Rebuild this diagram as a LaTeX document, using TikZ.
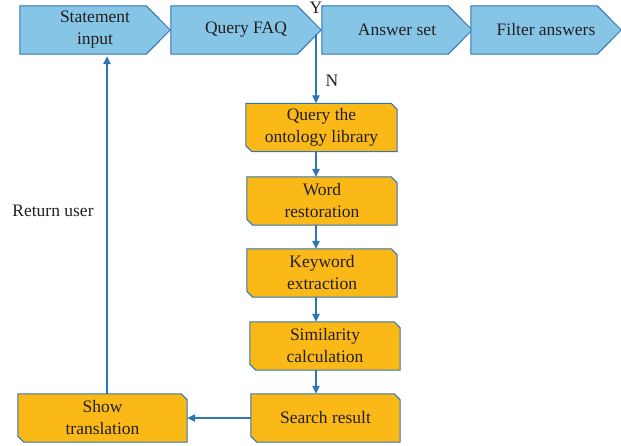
\documentclass[tikz,border=0pt]{standalone}
\usepackage{fontspec}
\setmainfont{Liberation Serif}
\usetikzlibrary{arrows.meta,backgrounds}
\definecolor{chevfill}{RGB}{134,197,229}
\definecolor{boxfill}{RGB}{251,185,23}
\definecolor{edgeblue}{RGB}{46,117,182}
\definecolor{inkdark}{RGB}{35,31,32}
\begin{document}
\begin{tikzpicture}[x=1pt,y=-1pt,
  txt/.style={font=\fontsize{17.5}{22}\selectfont, text=inkdark, align=center, inner sep=0pt},
  chev/.style={txt, minimum width=150, minimum height=48},
  stepbox/.style={txt, minimum height=48},
  chevshape/.style={fill=chevfill, draw=edgeblue, line width=1pt, line join=miter},
  boxshape/.style={fill=boxfill, draw=edgeblue, line width=1pt, line join=miter},
  arr/.style={draw=edgeblue, line width=1.4pt, -{Triangle[length=8pt,width=7.5pt]}},
  lbl/.style={txt, anchor=base}
]
\useasboundingbox (0,0) rectangle (621,445);

% process chevrons along the top
\node[chev] (s1) at (95,30) {Statement\\input};
\node[chev] (s2) at (246,30) {Query FAQ};
\node[chev] (s3) at (397,30) {Answer set};
\node[chev] (s4) at (546,30) {Filter answers};

% processing steps
\node[stepbox, minimum width=151] (q1) at (321.5,127.5) {Query the\\ontology library};
\node[stepbox, minimum width=150] (q2) at (322,201) {Word\\restoration};
\node[stepbox, minimum width=150] (q3) at (322,273) {Keyword\\extraction};
\node[stepbox, minimum width=150] (q4) at (325,346) {Similarity\\calculation};
\node[stepbox, minimum width=149] (q5) at (325.5,418) {Search result};
\node[stepbox, minimum width=169] (q6) at (102.5,418) {Show\\translation};

\begin{scope}[on background layer]
  \foreach \n in {s1,s2,s3,s4}
    \draw[chevshape] (\n.north west) -- ([xshift=-24]\n.north east) -- (\n.east)
      -- ([xshift=-24]\n.south east) -- (\n.south west) -- cycle;
  \foreach \n in {q1,q2,q3,q4,q5,q6}
    \draw[boxshape] (\n.north west) -- ([xshift=-6]\n.north east) -- ([yshift=-6]\n.north east)
      -- (\n.south east) -- ([xshift=6]\n.south west) -- ([yshift=6]\n.south west) -- cycle;
\end{scope}

% vertical spine of the step chain and the return path
\coordinate (spine) at (316,0);
\coordinate (back) at (107,0);

\draw[arr] ([yshift=-4]spine |- s2.east) -- (spine |- q1.north);
\draw[arr] (spine |- q1.south) -- (spine |- q2.north);
\draw[arr] (spine |- q2.south) -- (spine |- q3.north);
\draw[arr] (spine |- q3.south) -- (spine |- q4.north);
\draw[arr] (spine |- q4.south) -- (spine |- q5.north);
\draw[arr] (q5.west) -- (q6.east);
\draw[arr] (back |- q6.north) -- ([yshift=-2]back |- s1.south);

% labels
\node[lbl] (ylab) at (316,13) {Y};
\node[lbl] (nlab) at (332,86) {N};
\node[lbl] (ret) at (53,216) {Return user};
\end{tikzpicture}
\end{document}
